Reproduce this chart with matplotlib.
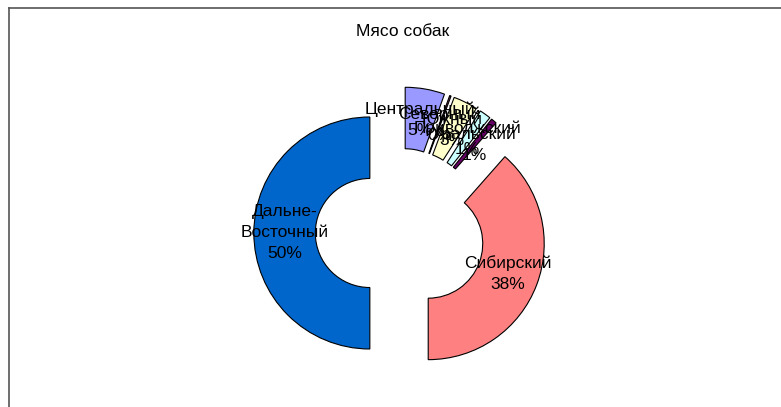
import numpy as np
import matplotlib
matplotlib.use("Agg")
import matplotlib.pyplot as plt
from matplotlib.lines import Line2D

plt.rcParams['font.family'] = ['Liberation Sans', 'DejaVu Sans']

title = "Мясо собак"
regions = ["Центральный", "Северный", "Южный", "Приволжский",
           "Уральский", "Сибирский", "Дальне-\nВосточный"]
shares = [5.5, 0.2, 3.4, 1.6, 0.8, 38.5, 50.0]
pct_labels = ["5%", "0%", "3%", "1%", "1%", "38%", "50%"]
colors = ["#9999FF", "#993366", "#FFFFCC", "#CCFFFF",
          "#660066", "#FF8080", "#0066CC"]

W, H = 781, 407
cx, cy, R = 400, 233, 116   # pixel centre and outer radius

fig = plt.figure(figsize=(W / 100, H / 100), dpi=100)
ax = fig.add_axes([0, 0, 1, 1])

explode = [0.26] * len(shares)
wedges, _ = ax.pie(shares, colors=colors, startangle=90, counterclock=False,
                   explode=explode,
                   wedgeprops=dict(width=0.53, edgecolor="black", linewidth=0.8))

# labels in the middle of the ring, like Excel
for w, name, pct in zip(wedges, regions, pct_labels):
    ang = np.deg2rad((w.theta1 + w.theta2) / 2)
    r = 1 - 0.53 / 2
    x = w.center[0] + r * np.cos(ang)
    y = w.center[1] + r * np.sin(ang)
    ax.text(x, y, name + "\n" + pct, ha="center", va="center",
            fontsize=12.5, linespacing=1.5)

ax.set_aspect("auto")
ax.set_xlim(-cx / R, (W - cx) / R)
ax.set_ylim(-(H - cy) / R, cy / R)
ax.axis("off")

fig.text(403 / W, 1 - 31 / H, title, ha="center", va="center", fontsize=12.5)

# chart area border (top and left edges visible)
fig.add_artist(Line2D([8.5 / W, 8.5 / W], [0, 1 - 7.5 / H],
                      transform=fig.transFigure, color="#555555", lw=1.2))
fig.add_artist(Line2D([8.5 / W, 1], [1 - 7.5 / H, 1 - 7.5 / H],
                      transform=fig.transFigure, color="#555555", lw=1.2))

fig.savefig("out.png", dpi=100)
